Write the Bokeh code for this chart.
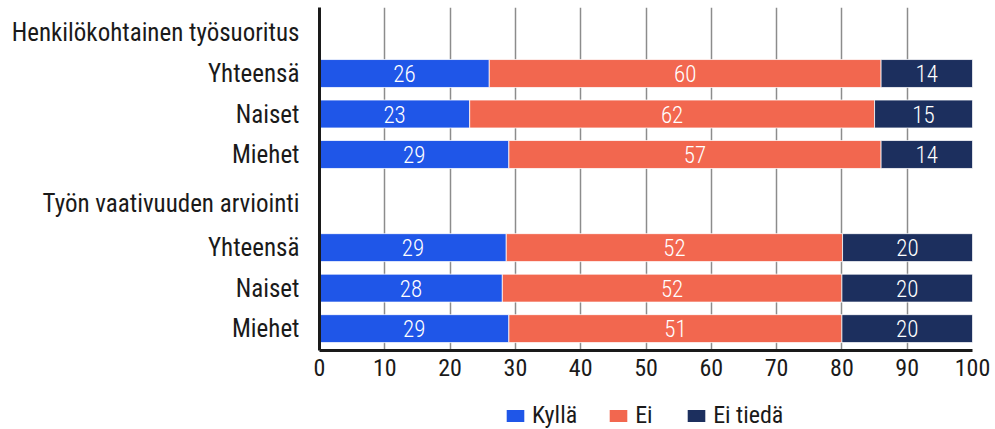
from bokeh.plotting import figure
from bokeh.layouts import column
from bokeh.models import ColumnDataSource, Range1d, FixedTicker, Legend, LegendItem
from bokeh.embed import file_html
from bokeh.resources import INLINE
from bokeh.core.properties import value

# ---- data ----
groups = ["Henkilökohtainen työsuoritus", "Työn vaativuuden arviointi"]
rows = ["Yhteensä", "Naiset", "Miehet"]
series = ["Kyllä", "Ei", "Ei tiedä"]
kylla = [26, 23, 29, 28.6, 28, 29]
ei = [60, 62, 57, 51.5, 52, 51]
ei_tieda = [14, 15, 14, 19.9, 20, 20]
x_ticks = [0, 10, 20, 30, 40, 50, 60, 70, 80, 90, 100]

# ---- layout (slot positions on the category axis) ----
header_pos = [-1.01, 3.21]
bar_pos = [0, 1, 2, 4.3, 5.3, 6.3]
colors = ["#1f56e8", "#f2674f", "#1c2f5e"]
FONT = "'Roboto Condensed', 'DejaVu Sans Condensed', 'Liberation Sans Narrow', Roboto"
FONT_LIGHT = "'Roboto Condensed Light', 'Roboto Condensed', 'DejaVu Sans Condensed', Roboto"
TXT = "#1a1a1a"

p = figure(width=990, height=395, output_backend="svg", toolbar_location=None,
           x_range=Range1d(0, 100), y_range=Range1d(6.84, -1.63),
           frame_width=653, frame_height=343,
           min_border_left=319, min_border_right=18, min_border_top=7,
           min_border_bottom=45, outline_line_color=None)

vals = [kylla, ei, ei_tieda]
left = [0.0] * len(kylla)
sources = []
for name, v, c in zip(series, vals, colors):
    right = [l + x for l, x in zip(left, v)]
    src = ColumnDataSource(dict(y=bar_pos, left=left, right=right,
                                mid=[(l + r) / 2 for l, r in zip(left, right)],
                                lab=[str(int(round(x))) for x in v]))
    p.hbar(y="y", left="left", right="right", height=0.69, source=src,
           fill_color=c, line_color="white", line_alpha=0.75, line_width=1)
    p.text(x="mid", y="y", text="lab", source=src, text_color="white",
           text_align="center", text_baseline="middle",
           text_font=value(FONT_LIGHT), text_font_size="23px")
    sources.append(src)
    left = right

# axes
ylabels = {}
for hp, g in zip(header_pos, groups):
    ylabels[hp] = g
for i, bp in enumerate(bar_pos):
    ylabels[bp] = rows[i % 3]
p.yaxis.ticker = FixedTicker(ticks=header_pos + bar_pos)
p.yaxis.major_label_overrides = ylabels
p.yaxis.major_tick_line_color = None
p.yaxis.minor_tick_line_color = None
p.yaxis.major_label_standoff = 14
p.yaxis.axis_line_width = 3
p.yaxis.axis_line_color = TXT
p.yaxis.major_label_text_font = FONT
p.yaxis.major_label_text_font_size = "25px"
p.yaxis.major_label_text_color = TXT

p.xaxis.ticker = FixedTicker(ticks=x_ticks)
p.xaxis.major_tick_line_color = None
p.xaxis.minor_tick_line_color = None
p.xaxis.major_tick_out = 0
p.xaxis.major_label_standoff = 8
p.xaxis.axis_label_standoff = 0
p.xaxis.axis_line_width = 3
p.xaxis.axis_line_color = TXT
p.xaxis.major_label_text_font = FONT
p.xaxis.major_label_text_font_size = "24px"
p.xaxis.major_label_text_color = TXT

p.ygrid.visible = False
p.xgrid.ticker = FixedTicker(ticks=x_ticks)
p.xgrid.grid_line_color = "#8c8c8c"
p.xgrid.grid_line_width = 1.5

# ---- legend strip (same sources, bars kept out of view) ----
lg = figure(width=990, height=34, output_backend="svg", toolbar_location=None,
            x_range=Range1d(1000, 1001), y_range=Range1d(1000, 1001),
            x_axis_type=None, y_axis_type=None, min_border=0,
            outline_line_color=None)
lg.grid.visible = False
items = []
for name, src, c in zip(series, sources, colors):
    r = lg.hbar(y="y", left="left", right="right", height=0.69, source=src,
                fill_color=c, line_color=None)
    items.append(LegendItem(label=name, renderers=[r]))
legend = Legend(items=items, orientation="horizontal", location=(185, 0),
                glyph_width=22, glyph_height=15, label_standoff=6, spacing=30,
                padding=0, margin=0, border_line_color=None, background_fill_alpha=0,
                label_text_font=FONT, label_text_font_size="24px", label_text_color=TXT)
lg.add_layout(legend, "center")

layout = column(p, lg, spacing=0)
open("out.html", "w").write(file_html(layout, INLINE))
